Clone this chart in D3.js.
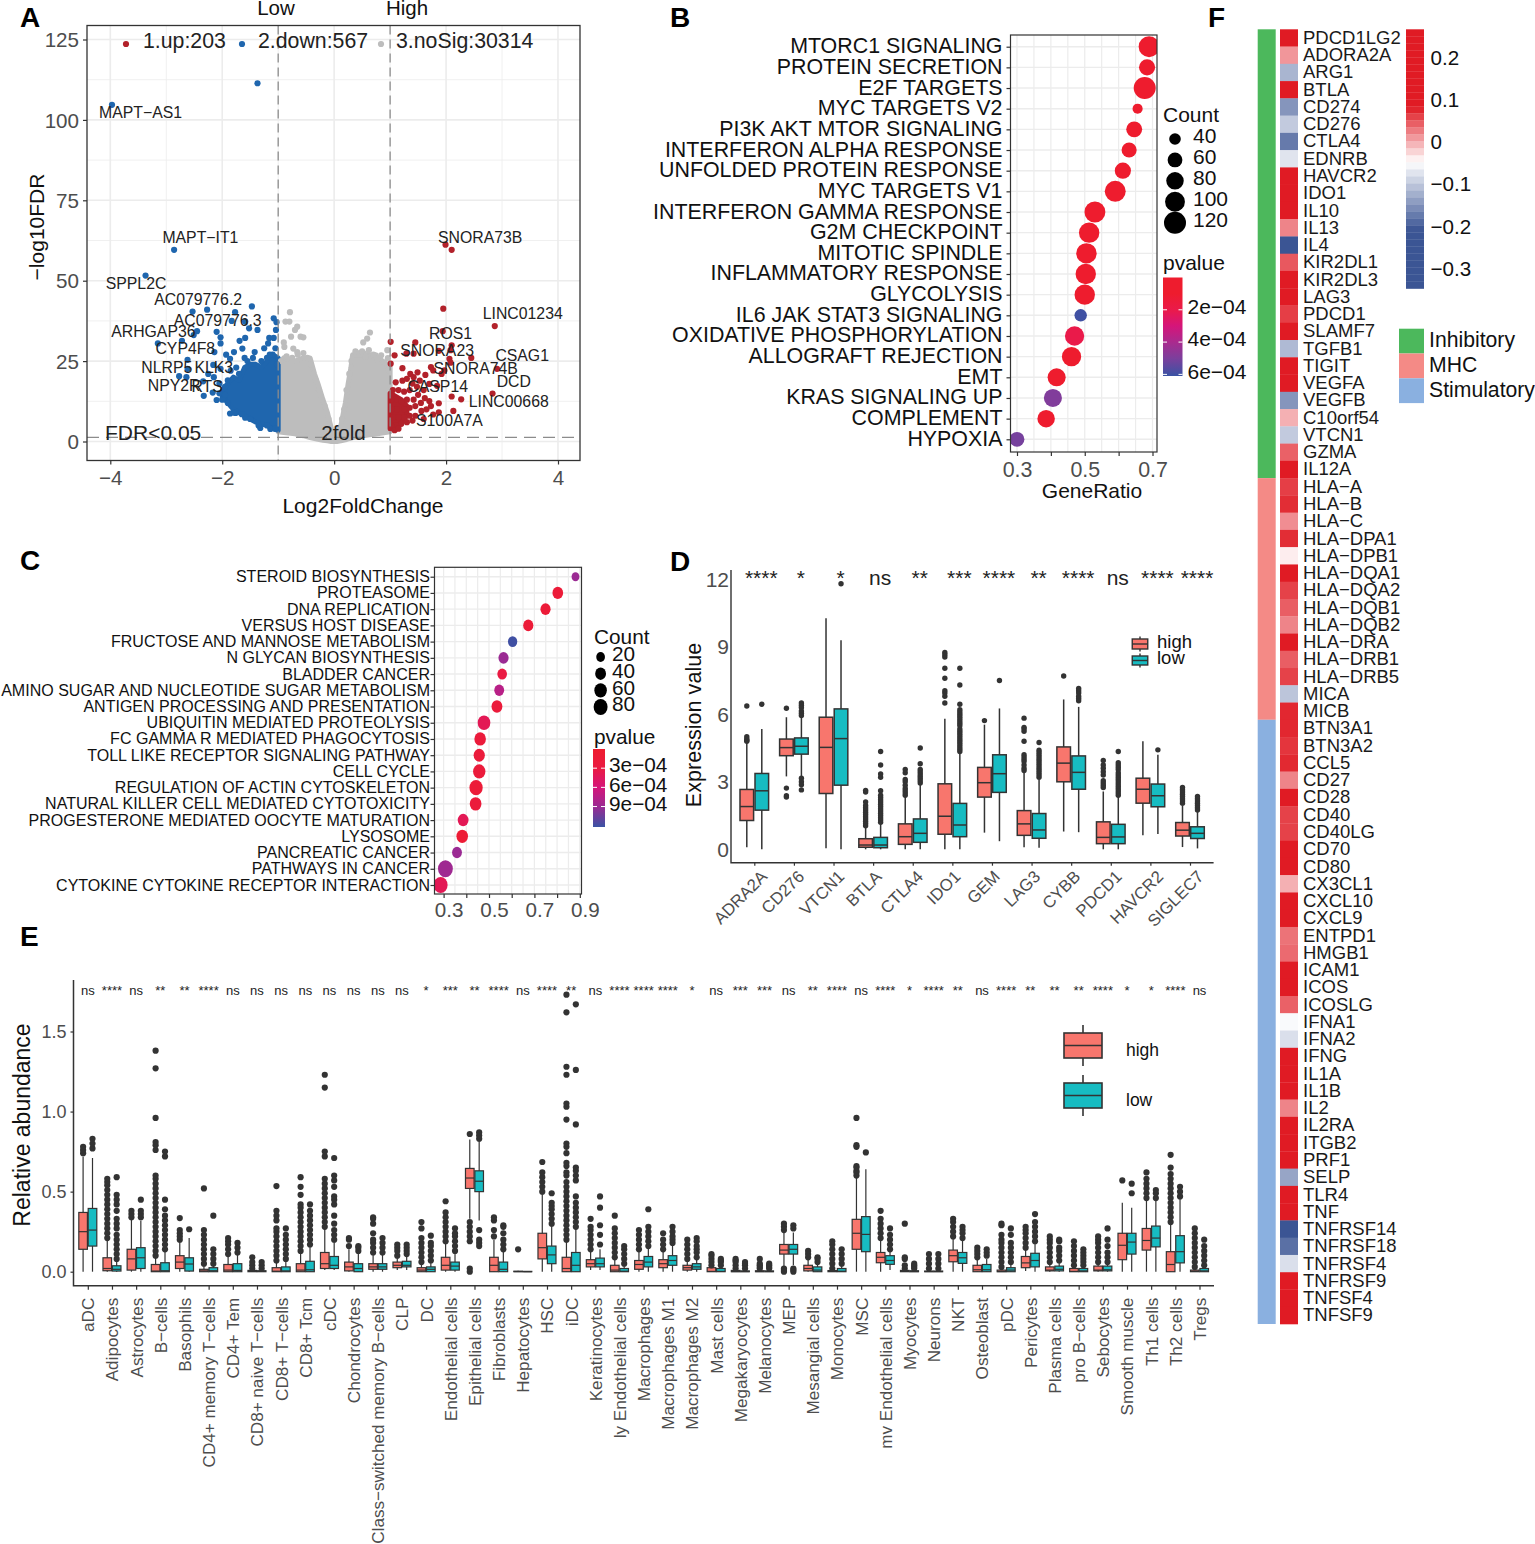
<!DOCTYPE html>
<html>
<head>
<meta charset="utf-8">
<script src="https://cdn.jsdelivr.net/npm/d3@7"></script>
<style>
body { margin: 0; background: #fff; }
text { font-family: "Liberation Sans", Arial, sans-serif; }
</style>
</head>
<body>
<div id="chart"></div>
<script>
// ---- panel A: volcano, [log2fc, -log10fdr]
const volcanoBlue = [[-3.97,104.7],[-1.37,111.4],[-2.86,59.6],[-3.37,51.6],[-1.47,42],[-2.27,41],[-2.53,40.4],[-1.77,40.2],[-1.83,37.5],[-1.08,38.3],[-1.03,37.1],[-1.59,37.3],[-1.52,35.2],[-1.37,34.7],[-2.1,34.1],[-2.45,34.3],[-2.51,33.1],[-2.72,31.3],[-3.15,30.5],[-2.03,32.4],[-1.59,32.2],[-1.69,31.3],[-1.04,34.7],[-1.16,32.2],[-1.08,32.2],[-1.18,30.5],[-2.03,30.5],[-2.14,27.8],[-1.64,28.9],[-1.42,27.8],[-1.79,27.8],[-1.93,27],[-1.86,25.7],[-2.62,25.4],[-2.16,23.8],[-2.03,22.6],[-2.62,22.6],[-2.77,20.3],[-2.64,20],[-2.34,18.7],[-2.33,14.2],[-2.17,15.2],[-2.1,12.9],[-1.86,8.7],[-1.76,8.9],[-1.59,7.4],[-1.32,4.2],[-1.14,3.9],[-1.05,4],[-1.2,5],[-1.35,5],[-1.5,7],[-1.65,8.5],[-1.8,9],[-1.9,12],[-2,13],[-2.05,15],[-1.95,17],[-1.9,19],[-1.85,22],[-1.7,21],[-1.55,25],[-1.45,26],[-1.3,25],[-1.2,26],[-1.1,27],[-1.25,29],[-1.15,27],[-1.05,29],[-1.02,24],[-1.75,23],[-1.6,26],[-1.95,14.5],[-2.05,18],[-2.15,20],[-2.25,21]];
const blueMassX = [-1.0,-1.1,-1.2,-1.3,-1.4,-1.5,-1.6,-1.7,-1.8,-1.9,-2.0];
const blueMassLo = [3.5,4,5,5.5,6,7,8,9,10,12,14];
const blueMassHi = [26,27,25,23,24,24,23,19,20,18,16];
const volcanoRed = [[1.99,61.2],[2.1,59.6],[1.95,41.3],[2.87,35.9],[1.94,34.3],[1.01,31],[1.45,30.8],[2.1,29.9],[2.08,28.4],[1.87,28.2],[1.08,26.8],[1.42,27.3],[1.29,27.3],[2.45,26],[2.06,25.7],[2.08,24.5],[1.01,24.2],[1.22,22.8],[1.73,23.1],[1.77,22.1],[1.97,22.1],[1.92,21],[2.91,22.6],[1.49,21.5],[1.36,21],[1.63,20.7],[1.42,20],[1.1,18.4],[1.22,18.9],[1.53,18.9],[1.7,17.9],[1.84,17.3],[2.83,14.9],[2.1,14],[2.27,13.1],[1.7,12.6],[1.87,11.9],[1.73,11],[2.13,9.5],[1.87,9.1],[1.56,9.5],[1.77,8.4],[1.3,19.5],[1.4,18],[1.48,17],[1.6,16],[1.35,16],[1.25,15.5],[1.15,16],[1.05,16],[1.5,14.5],[1.62,13.5],[1.42,13],[1.3,13],[1.2,12.5],[1.1,13],[1.02,13],[1.55,12],[1.45,11],[1.35,10.5],[1.65,10],[1.25,10],[1.12,10],[1.03,10],[1.45,8],[1.35,8],[1.25,7.5],[1.15,7.5],[1.05,7.5],[1.3,6],[1.2,5.5],[1.1,5],[1.03,4.5],[1.08,3.5],[1.15,4],[1.4,6.5],[1.6,7]];
const redMassX = [1.0,1.1,1.2,1.3];
const redMassLo = [4,4,6,8];
const redMassHi = [15,14,13,11];
const volcanoGrey = [[-0.79,40.2],[-0.87,37.3],[-0.8,37.3],[-0.66,35.7],[-0.7,34.7],[-0.77,32.6],[-0.6,32.6],[-0.55,32.4],[-0.9,30.8],[-0.89,29.4],[-0.73,28.9],[-0.66,27.8],[0.64,33.9],[0.59,32],[0.52,30.8],[0.62,28.4],[0.74,26.8],[0.84,26.8],[0.95,28.4],[0.96,25.9],[0.53,27.3],[-0.95,25],[-0.85,26.5],[-0.75,26],[-0.65,27],[-0.55,27.5],[-0.48,26],[-0.42,24],[-0.38,21],[-0.33,19],[-0.27,16],[-0.23,13],[-0.17,11],[-0.1,7],[0.14,7],[0.18,10],[0.22,16],[0.27,21],[0.31,25],[0.38,28],[0.45,27.5],[0.5,28],[0.56,26.5],[0.7,27],[0.78,25.5],[0.9,24.5],[0.97,22]];
const greyLeftX = [-1,-0.9,-0.7,-0.55,-0.43,-0.35,-0.29,-0.2,-0.12,-0.05,0];
const greyLeftLo = [3,2.8,2.4,1.8,1.2,0.9,0.7,0.4,0.2,0,0];
const greyLeftHi = [24,26,25,26,26,21,18,13,9,4,1.5];
const greyRightX = [0,0.05,0.12,0.2,0.25,0.3,0.33,0.6,0.8,1];
const greyRightLo = [0,0,0.2,0.5,0.8,1,1.2,2,2.5,3];
const greyRightHi = [1.5,2.5,5,12,18,23,27,27,26,23];
const volcanoLabels = ["MAPT−AS1","MAPT−IT1","SPPL2C","AC079776.2","AC079776.3","ARHGAP36","CYP4F8","NLRP5","KLK3","NPY2R","RTS","SNORA73B","LINC01234","ROS1","SNORA23","CSAG1","SNORA74B","DCD","CASP14","LINC00668","S100A7A"];
const volcanoLabelX = [-3.46,-2.39,-3.54,-2.43,-2.08,-3.23,-2.66,-2.99,-2.15,-2.86,-2.27,2.61,3.37,2.08,1.84,3.36,2.53,3.21,1.85,3.12,2.06];
const volcanoLabelY = [102.2,63.3,49,44.3,37.5,34.1,28.9,23.1,22.9,17.3,17.1,63.3,39.7,33.6,28.2,26.6,22.6,18.6,17.1,12.3,6.6];

// ---- panel B
const hallmarkTerms = ["MTORC1 SIGNALING","PROTEIN SECRETION","E2F TARGETS","MYC TARGETS V2","PI3K AKT MTOR SIGNALING","INTERFERON ALPHA RESPONSE","UNFOLDED PROTEIN RESPONSE","MYC TARGETS V1","INTERFERON GAMMA RESPONSE","G2M CHECKPOINT","MITOTIC SPINDLE","INFLAMMATORY RESPONSE","GLYCOLYSIS","IL6 JAK STAT3 SIGNALING","OXIDATIVE PHOSPHORYLATION","ALLOGRAFT REJECTION","EMT","KRAS SIGNALING UP","COMPLEMENT","HYPOXIA"];
const hallmarkRatio = [0.69,0.684,0.677,0.656,0.646,0.631,0.6125,0.59,0.53,0.513,0.505,0.503,0.5,0.488,0.47,0.461,0.417,0.406,0.386,0.3];
const hallmarkCount = [110,70,120,32,68,62,70,110,110,105,105,105,105,45,95,95,85,85,80,60];
const hallmarkP = [0.2e-4,0.2e-4,0.2e-4,0.5e-4,0.5e-4,0.4e-4,0.3e-4,0.3e-4,0.3e-4,0.2e-4,0.2e-4,0.2e-4,0.2e-4,6e-4,2e-4,0.5e-4,0.3e-4,4.9e-4,0.3e-4,5.1e-4];

// ---- panel C
const keggTerms = ["STEROID BIOSYNTHESIS","PROTEASOME","DNA REPLICATION","VERSUS HOST DISEASE","FRUCTOSE AND MANNOSE METABOLISM","N GLYCAN BIOSYNTHESIS","BLADDER CANCER","AMINO SUGAR AND NUCLEOTIDE SUGAR METABOLISM","ANTIGEN PROCESSING AND PRESENTATION","UBIQUITIN MEDIATED PROTEOLYSIS","FC GAMMA R MEDIATED PHAGOCYTOSIS","TOLL LIKE RECEPTOR SIGNALING PATHWAY","CELL CYCLE","REGULATION OF ACTIN CYTOSKELETON","NATURAL KILLER CELL MEDIATED CYTOTOXICITY","PROGESTERONE MEDIATED OOCYTE MATURATION","LYSOSOME","PANCREATIC CANCER","PATHWAYS IN CANCER","CYTOKINE CYTOKINE RECEPTOR INTERACTION"];
const keggRatio = [0.881,0.803,0.749,0.673,0.604,0.564,0.558,0.545,0.535,0.478,0.461,0.457,0.457,0.443,0.441,0.386,0.382,0.359,0.308,0.287];
const keggCount = [14,38,33,33,25,33,28,30,40,62,48,44,58,70,50,40,48,30,95,80];
const keggP = [9e-4,1.5e-4,1.5e-4,1.5e-4,12e-4,9e-4,3e-4,7.5e-4,2e-4,4e-4,2e-4,2e-4,2e-4,1.5e-4,2e-4,4e-4,1e-4,9e-4,8.8e-4,4e-4];

// ---- panel D: [lower whisker, q1, median, q3, upper whisker, outliers]
const checkpointGenes = ["ADRA2A","CD276","VTCN1","BTLA","CTLA4","IDO1","GEM","LAG3","CYBB","PDCD1","HAVCR2","SIGLEC7"];
const checkpointStars = ["****","*","*","ns","**","***","****","**","****","ns","****","****"];
const checkpointHigh = [
 [0.09,1.28,1.9,2.66,4.75,[4.8,4.85,4.9,5,6.37]],
 [3.24,4.16,4.52,4.9,5.87,[6.27,2.72,2.38,2.32]],
 [0.05,2.48,4.53,5.87,10.27,[]],
 [0,0.09,0.19,0.47,1,[1.05,1.15,1.25,1.35,1.45,1.55,1.65,1.75,1.85,1.95,2.1,2.55,2.62]],
 [0,0.22,0.56,1.13,2.35,[2.4,2.5,2.6,2.7,2.85,3,3.1,3.4,3.55]],
 [0,0.67,1.47,2.91,5.8,[6.5,6.8,6.95,7.05,7.6,8.05,8.55,8.65,8.75]],
 [0.74,2.32,2.96,3.64,5.54,[5.72]],
 [0.09,0.62,1.13,1.72,3.4,[3.5,3.6,3.75,3.9,4,4.1,4.2,4.8,5.25,5.35,5.42,5.83]],
 [0.79,3,3.83,4.55,6.66,[7.7]],
 [0,0.25,0.53,1.22,2.57,[2.75,2.85,2.95,3.05,3.3,3.45,3.6,3.75,3.95]],
 [0.62,2.05,2.67,3.16,4.8,[]],
 [0.1,0.59,0.85,1.19,1.93,[2.05,2.15,2.25,2.35,2.45,2.55,2.65,2.75]]
];
const checkpointLow = [
 [0,1.74,2.6,3.37,5.35,[6.45]],
 [3.24,4.23,4.58,4.95,5.9,[6.5,6.4,6.3,6.15,6.05,5.95,3.16,3,2.87,2.64]],
 [0,2.85,4.92,6.24,9.29,[11.8]],
 [0,0.07,0.19,0.53,1.15,[1.2,1.3,1.4,1.5,1.6,1.7,1.8,1.9,2,2.1,2.2,2.3,2.4,2.6,3.2,3.35,3.75,4.35]],
 [0,0.31,0.71,1.35,2.87,[2.95,3.05,3.15,3.25,3.35,3.45,3.55,3.8,4.5]],
 [0,0.56,1.08,2.04,4.28,[4.35,4.45,4.55,4.65,4.75,4.85,4.95,5.05,5.15,5.25,5.35,5.5,5.6,5.7,5.8,5.9,6,6.1,6.2,6.45,7.3,8.05]],
 [0.36,2.53,3.36,4.2,6.26,[7.5]],
 [0.07,0.49,0.86,1.59,3.1,[3.2,3.3,3.4,3.5,3.6,3.7,3.8,3.9,4,4.1,4.2,4.3,4.4,4.75]],
 [0.76,2.67,3.42,4.15,6.33,[6.6,6.7,6.8,6.95,7.05,7.15]],
 [0,0.25,0.55,1.11,2.35,[2.4,2.5,2.6,2.7,2.8,2.9,3,3.1,3.2,3.3,3.4,3.55,3.65,3.75,3.85,4.35]],
 [0.68,1.89,2.38,2.9,4.2,[4.42]],
 [0.04,0.48,0.71,1,1.72,[1.75,1.85,1.95,2.05,2.15,2.25,2.35]]
];

// ---- panel E
const cellTypes = ["aDC","Adipocytes","Astrocytes","B−cells","Basophils","CD4+ memory T−cells","CD4+ Tem","CD8+ naive T−cells","CD8+ T−cells","CD8+ Tcm","cDC","Chondrocytes","Class−switched memory B−cells","CLP","DC","Endothelial cells","Epithelial cells","Fibroblasts","Hepatocytes","HSC","iDC","Keratinocytes","ly Endothelial cells","Macrophages","Macrophages M1","Macrophages M2","Mast cells","Megakaryocytes","Melanocytes","MEP","Mesangial cells","Monocytes","MSC","mv Endothelial cells","Myocytes","Neurons","NKT","Osteoblast","pDC","Pericytes","Plasma cells","pro B−cells","Sebocytes","Smooth muscle","Th1 cells","Th2 cells","Tregs"];
const cellStars = ["ns","****","ns","**","**","****","ns","ns","ns","ns","ns","ns","ns","ns","*","***","**","****","ns","****","**","ns","****","****","****","*","ns","***","***","ns","**","****","ns","****","*","****","**","ns","****","**","**","**","****","*","*","****","ns"];
const cellHigh = [
 [0,0.14,0.25,0.37,0.72,[0.74,0.76,0.78]],
 [0,0.006,0.02,0.087,0.2,[0.21,0.24,0.27,0.3,0.33,0.36,0.39,0.42,0.45,0.48,0.51,0.54,0.56,0.58]],
 [0,0.01,0.08,0.14,0.33,[0.34,0.36,0.38]],
 [0,0,0.004,0.045,0.09,[0.1,0.13,0.16,0.19,0.22,0.25,0.28,0.31,0.34,0.37,0.4,0.43,0.46,0.49,0.52,0.55,0.58,0.6,0.76,0.79,0.81,0.96,1.27,1.38]],
 [0,0.02,0.06,0.1,0.19,[0.2,0.22,0.24,0.26,0.335]],
 [0,0,0.005,0.015,0.04,[0.05,0.08,0.11,0.14,0.17,0.2,0.23,0.26,0.52]],
 [0,0,0.01,0.045,0.1,[0.11,0.14,0.17,0.19,0.21]],
 [0,0,0.002,0.008,0.012,[0.02,0.04,0.06,0.09]],
 [0,0,0.003,0.025,0.06,[0.07,0.1,0.13,0.16,0.19,0.22,0.25,0.27,0.32,0.35,0.38,0.535]],
 [0,0,0.01,0.05,0.12,[0.13,0.16,0.19,0.22,0.25,0.28,0.31,0.34,0.37,0.4,0.42,0.48,0.53,0.59]],
 [0.01,0.02,0.05,0.12,0.27,[0.28,0.31,0.34,0.37,0.4,0.43,0.46,0.49,0.52,0.55,0.58,0.72,0.75,1.15,1.23]],
 [0,0.005,0.03,0.06,0.14,[0.16,0.2,0.21]],
 [0,0.015,0.03,0.05,0.11,[0.12,0.15,0.18,0.2,0.24,0.3,0.33,0.34]],
 [0.01,0.025,0.04,0.06,0.095,[0.1,0.13,0.15,0.17]],
 [0,0,0.01,0.025,0.05,[0.06,0.09,0.12,0.15,0.18,0.21,0.27,0.31]],
 [0,0.01,0.04,0.09,0.18,[0.19,0.22,0.25,0.28,0.31,0.34,0.37,0.44]],
 [0.33,0.52,0.585,0.645,0.825,[0.86,0.31,0.28,0.25,0.22,0.19,0.02,0]],
 [0,0,0.04,0.09,0.2,[0.22,0.26,0.32,0.34]],
 [0,0,0.001,0.003,0.006,[0.14]],
 [0,0.08,0.15,0.24,0.5,[0.5,0.53,0.56,0.59,0.62,0.685]],
 [0,0,0.02,0.09,0.2,[0.2,0.23,0.26,0.29,0.32,0.35,0.38,0.41,0.44,0.47,0.5,0.53,0.56,0.6,0.62,0.66,0.68,0.74,0.78,0.8,0.95,1.03,1.05,1.23,1.28,1.62,1.73]],
 [0.01,0.03,0.05,0.075,0.13,[0.14,0.17,0.2,0.23,0.26,0.28,0.33]],
 [0,0,0.01,0.04,0.08,[0.09,0.12,0.15,0.18,0.21,0.24,0.27,0.35]],
 [0,0.015,0.045,0.07,0.13,[0.14,0.17,0.2,0.23,0.26]],
 [0,0.025,0.05,0.075,0.13,[0.14,0.17,0.2,0.24]],
 [0,0.01,0.025,0.04,0.07,[0.08,0.11,0.14,0.17,0.2]],
 [0,0,0.002,0.025,0.03,[0.04,0.06,0.08,0.1,0.11]],
 [0,0,0.001,0.008,0.012,[0.02,0.04,0.06,0.07,0.08]],
 [0,0,0.001,0.006,0.01,[0.02,0.03,0.04,0.05,0.08]],
 [0.03,0.11,0.135,0.17,0.25,[0.26,0.28,0.3,0.01,0,0.02]],
 [0,0.005,0.02,0.04,0.08,[0.09,0.11,0.13]],
 [0,0,0.002,0.007,0.015,[0.02,0.05,0.08,0.11,0.14,0.17,0.19]],
 [0,0.14,0.24,0.327,0.59,[0.6,0.62,0.63,0.65,0.66,0.78,0.79,0.96]],
 [0,0.056,0.09,0.12,0.2,[0.21,0.24,0.27,0.3,0.33,0.38]],
 [0,0,0.002,0.008,0.012,[0.02,0.04,0.08,0.09,0.3]],
 [0,0,0.001,0.004,0.01,[0.02,0.05,0.08,0.11]],
 [0,0.062,0.1,0.135,0.21,[0.22,0.25,0.28,0.31,0.33]],
 [0,0,0.012,0.04,0.075,[0.09,0.11,0.13,0.15]],
 [0,0,0.001,0.01,0.02,[0.03,0.06,0.09,0.12,0.15,0.18,0.2,0.23,0.29,0.3]],
 [0.005,0.025,0.055,0.095,0.14,[0.15,0.18,0.21,0.24,0.26,0.28]],
 [0,0.005,0.01,0.03,0.05,[0.06,0.09,0.12,0.15,0.18,0.2,0.22]],
 [0,0,0.002,0.02,0.03,[0.04,0.07,0.1,0.13,0.16,0.19]],
 [0,0.005,0.01,0.035,0.05,[0.06,0.09,0.12,0.15,0.18,0.2,0.22]],
 [0,0.075,0.165,0.24,0.43,[0.57]],
 [0,0.135,0.195,0.27,0.45,[0.46,0.49,0.52,0.55,0.58,0.62]],
 [0,0,0.045,0.125,0.3,[0.31,0.34,0.37,0.4,0.43,0.46,0.49,0.52,0.55,0.58,0.61,0.65,0.73]],
 [0,0,0.002,0.01,0.02,[0.03,0.06,0.09,0.12,0.15,0.18,0.21,0.24,0.27]]
];
const cellLow = [
 [0,0.16,0.26,0.395,0.71,[0.77,0.8,0.83]],
 [0,0.004,0.015,0.037,0.07,[0.08,0.11,0.14,0.17,0.2,0.23,0.27,0.3,0.33,0.38,0.42,0.45,0.48,0.59]],
 [0,0.02,0.087,0.15,0.32,[0.34,0.36,0.38,0.45]],
 [0,0,0.006,0.056,0.135,[0.14,0.17,0.2,0.23,0.26,0.29,0.32,0.35,0.39,0.45,0.72,0.75]],
 [0,0.004,0.048,0.087,0.21,[0.265]],
 [0,0,0.006,0.025,0.05,[0.05,0.08,0.11,0.14,0.35]],
 [0,0,0.008,0.05,0.11,[0.12,0.15,0.18]],
 [0,0,0.002,0.006,0.01,[0.02,0.04,0.06]],
 [0,0,0.005,0.03,0.07,[0.08,0.11,0.14,0.17,0.2,0.23,0.27]],
 [0,0,0.012,0.065,0.16,[0.17,0.2,0.23,0.26,0.29,0.32,0.35,0.38,0.42]],
 [0.01,0.02,0.04,0.095,0.19,[0.2,0.23,0.26,0.3,0.35,0.42,0.45,0.47,0.53,0.57,0.6,0.71]],
 [0,0,0.02,0.05,0.12,[0.13,0.15,0.16]],
 [0,0.015,0.03,0.05,0.11,[0.12,0.15,0.18,0.21]],
 [0.01,0.03,0.04,0.065,0.1,[0.11,0.13,0.15,0.17]],
 [0,0,0.015,0.03,0.06,[0.07,0.1,0.13,0.16,0.18,0.225]],
 [0,0.01,0.035,0.06,0.12,[0.13,0.16,0.19,0.22,0.24,0.27]],
 [0.32,0.5,0.565,0.63,0.81,[0.83,0.85,0.87,0.26,0.2,0.18,0.16]],
 [0,0,0.015,0.06,0.13,[0.14,0.17,0.2,0.24,0.28,0.29]],
 [0,0,0,0.002,0.004,[]],
 [0,0.05,0.105,0.16,0.29,[0.3,0.33,0.36,0.39,0.41,0.43,0.49]],
 [0,0,0.04,0.12,0.27,[0.28,0.31,0.34,0.37,0.4,0.43,0.47,0.57,0.6,0.63,0.65,0.92,1.26,1.67]],
 [0.01,0.03,0.05,0.085,0.14,[0.17,0.23,0.29,0.4,0.47]],
 [0,0,0.003,0.02,0.04,[0.05,0.08,0.11,0.14,0.16]],
 [0,0.03,0.06,0.095,0.15,[0.16,0.19,0.22,0.25,0.28,0.39]],
 [0,0.04,0.07,0.1,0.17,[0.18,0.2,0.22,0.25,0.28]],
 [0,0.015,0.03,0.05,0.08,[0.09,0.12,0.14,0.16,0.19,0.21]],
 [0,0,0.002,0.02,0.03,[0.04,0.06,0.07,0.08]],
 [0,0,0.001,0.005,0.01,[0.02,0.04,0.05,0.06]],
 [0,0,0.001,0.005,0.01,[0.02,0.03,0.04,0.05]],
 [0.04,0.11,0.14,0.17,0.245,[0.27,0.29,0,0.01,0.02]],
 [0,0,0.01,0.03,0.05,[0.06,0.08,0.09]],
 [0,0,0.003,0.02,0.04,[0.05,0.08,0.11,0.14]],
 [0,0.125,0.233,0.344,0.64,[0.745]],
 [0.01,0.046,0.07,0.1,0.135,[0.14,0.17,0.2,0.23,0.27]],
 [0,0,0.001,0.006,0.01,[0.02,0.03,0.04,0.05]],
 [0,0,0.001,0.004,0.01,[0.02,0.05,0.08,0.11]],
 [0,0.052,0.087,0.12,0.2,[0.21,0.24,0.26,0.28]],
 [0,0,0.012,0.045,0.08,[0.1,0.12,0.14]],
 [0,0,0.01,0.025,0.045,[0.06,0.09,0.12,0.15,0.18,0.23,0.27]],
 [0,0.03,0.07,0.115,0.18,[0.19,0.22,0.25,0.28,0.31,0.36]],
 [0,0.005,0.015,0.035,0.06,[0.07,0.1,0.13,0.15,0.19,0.2]],
 [0,0,0.005,0.02,0.03,[0.04,0.06,0.08,0.1,0.12,0.14]],
 [0,0.005,0.012,0.035,0.05,[0.06,0.09,0.12,0.16,0.2,0.27]],
 [0,0.11,0.185,0.24,0.4,[0.49,0.55]],
 [0,0.155,0.21,0.285,0.45,[0.46,0.49,0.51]],
 [0,0.055,0.125,0.225,0.46,[0.47,0.5,0.53]],
 [0,0,0.005,0.02,0.03,[0.04,0.07,0.1,0.13,0.16,0.2]]
];

// ---- panel F
const immuneGenes = ["PDCD1LG2","ADORA2A","ARG1","BTLA","CD274","CD276","CTLA4","EDNRB","HAVCR2","IDO1","IL10","IL13","IL4","KIR2DL1","KIR2DL3","LAG3","PDCD1","SLAMF7","TGFB1","TIGIT","VEGFA","VEGFB","C10orf54","VTCN1","GZMA","IL12A","HLA−A","HLA−B","HLA−C","HLA−DPA1","HLA−DPB1","HLA−DQA1","HLA−DQA2","HLA−DQB1","HLA−DQB2","HLA−DRA","HLA−DRB1","HLA−DRB5","MICA","MICB","BTN3A1","BTN3A2","CCL5","CD27","CD28","CD40","CD40LG","CD70","CD80","CX3CL1","CXCL10","CXCL9","ENTPD1","HMGB1","ICAM1","ICOS","ICOSLG","IFNA1","IFNA2","IFNG","IL1A","IL1B","IL2","IL2RA","ITGB2","PRF1","SELP","TLR4","TNF","TNFRSF14","TNFRSF18","TNFRSF4","TNFRSF9","TNFSF4","TNFSF9"];
const immuneValues = [0.2,0.02,-0.11,0.2,-0.14,-0.09,-0.165,-0.065,0.2,0.2,0.2,0.03,-0.25,0.055,0.2,0.2,0.07,0.11,-0.105,0.15,0.15,-0.14,0.005,-0.09,0.05,0.12,0.07,0.08,0.025,0.08,-0.03,0.1,0.068,0.052,0.03,0.095,0.052,0.068,-0.095,0.083,0.083,0.075,0.082,0.03,0.1,0.068,0.068,0.11,0.11,0.005,0.11,0.11,0.04,0.045,0.12,0.12,0.05,-0.045,-0.07,0.15,0.15,0.15,0.03,0.15,0.15,0.15,-0.125,0.15,0.15,-0.2,-0.175,-0.07,0.15,0.15,0.15];
const immuneClassNames = ["Inhibitory","MHC","Stimulatory"];
const immuneClassSizes = [26,14,35];
const immuneTicks = [0.2,0.1,0,-0.1,-0.2,-0.3];

const font = "Liberation Sans";
const dark = "#333333", tickGrey = "#4d4d4d", gridGrey = "#ececec";
const highFill = "#f8766d", lowFill = "#17bcc2";

const svg = d3.select("#chart").append("svg")
	.attr("width", 1535).attr("height", 1544)
	.style("display", "block");
const defs = svg.append("defs");

function label(g, x, y, s, size, opts){
	opts = opts || {};
	return g.append("text")
		.attr("x", x).attr("y", y)
		.attr("dy", opts.dy === undefined ? "0.35em" : opts.dy)
		.attr("text-anchor", opts.anchor || "start")
		.attr("font-size", size)
		.attr("font-weight", opts.weight || "normal")
		.attr("fill", opts.fill || "#111")
		.text(s);
}

function styleAxis(g, size, color){
	g.select(".domain").remove();
	g.selectAll(".tick line").attr("stroke", dark).attr("stroke-width", 1.2);
	g.selectAll(".tick text").attr("font-size", size).attr("fill", color).attr("font-family", font);
}

function panelLetters(){
	const letters = [["A",20,27],["B",670,27],["C",20,570],["D",670,571],["E",20,946],["F",1208,27]];
	letters.forEach(d => label(svg, d[1], d[2], d[0], 28, {weight:"bold", dy:0, fill:"#000"}));
}

// ---------------- A
function drawVolcano(){
	const left = 87, right = 580, top = 25.5, bottom = 460.5;
	const x = d3.scaleLinear().domain([-4,4]).range([110.3,558]);
	const y = d3.scaleLinear().domain([0,125]).range([441.5,39.5]);
	const g = svg.append("g");
	[-3,-1,1,3].forEach(v => g.append("line").attr("x1",x(v)).attr("x2",x(v)).attr("y1",top).attr("y2",bottom).attr("stroke",gridGrey).attr("stroke-width",0.8));
	[12.5,37.5,62.5,87.5,112.5].forEach(v => g.append("line").attr("x1",left).attr("x2",right).attr("y1",y(v)).attr("y2",y(v)).attr("stroke",gridGrey).attr("stroke-width",0.8));
	[-4,-2,0,2,4].forEach(v => g.append("line").attr("x1",x(v)).attr("x2",x(v)).attr("y1",top).attr("y2",bottom).attr("stroke",gridGrey).attr("stroke-width",1.6));
	[0,25,50,75,100,125].forEach(v => g.append("line").attr("x1",left).attr("x2",right).attr("y1",y(v)).attr("y2",y(v)).attr("stroke",gridGrey).attr("stroke-width",1.6));

	const mass = (xs, lo, hi, col) => {
		const area = d3.area().x((d,i) => x(xs[i])).y0((d,i) => y(lo[i])).y1((d,i) => y(hi[i]));
		g.append("path").attr("d", area(xs)).attr("fill",col).attr("stroke",col).attr("stroke-width",5).attr("stroke-linejoin","round");
	};
	mass(greyLeftX, greyLeftLo, greyLeftHi, "#bdbdbd");
	mass(greyRightX, greyRightLo, greyRightHi, "#bdbdbd");
	mass(blueMassX, blueMassLo, blueMassHi, "#1f66ae");
	mass(redMassX, redMassLo, redMassHi, "#b2212a");
	const pts = (data, col) => g.append("g").selectAll("circle").data(data).enter().append("circle")
		.attr("cx", d => x(d[0])).attr("cy", d => y(d[1])).attr("r", 3.1).attr("fill", col);
	pts(volcanoGrey, "#bdbdbd");
	pts(volcanoBlue, "#1f66ae");
	pts(volcanoRed, "#b2212a");

	// thresholds
	[-1,1].forEach(v => g.append("line").attr("x1",x(v)).attr("x2",x(v)).attr("y1",top).attr("y2",bottom).attr("stroke","#8c8c8c").attr("stroke-width",1.3).attr("stroke-dasharray","9 5"));
	g.append("line").attr("x1",left).attr("x2",right).attr("y1",y(1.3)).attr("y2",y(1.3)).attr("stroke","#8c8c8c").attr("stroke-width",1.3).attr("stroke-dasharray","12 7");

	volcanoLabels.forEach((s,i) => label(g, x(volcanoLabelX[i]), y(volcanoLabelY[i]), s, 15.8, {anchor:"middle", fill:"#222"}));

	// legend
	[[126,143,"#b2212a","1.up:203"],[242,258,"#1f66ae","2.down:567"],[381,396,"#bdbdbd","3.noSig:30314"]].forEach(d => {
		g.append("circle").attr("cx",d[0]).attr("cy",44).attr("r",3.1).attr("fill",d[2]);
		label(g, d[1], 41, d[3], 21.3, {fill:"#222"});
	});
	g.append("rect").attr("x",left).attr("y",top).attr("width",right-left).attr("height",bottom-top).attr("fill","none").attr("stroke",dark).attr("stroke-width",1.3);

	const xa = g.append("g").attr("transform",`translate(0,${bottom})`).call(d3.axisBottom(x).tickValues([-4,-2,0,2,4]).tickSize(4).tickPadding(6));
	styleAxis(xa, 20.6, tickGrey);
	const ya = g.append("g").attr("transform",`translate(${left},0)`).call(d3.axisLeft(y).tickValues([0,25,50,75,100,125]).tickSize(4).tickPadding(4));
	styleAxis(ya, 20.6, tickGrey);
	ya.selectAll(".tick text").attr("dy","0.35em");

	label(g, 276, 8, "Low", 20.5, {anchor:"middle"});
	label(g, 407, 8, "High", 20.5, {anchor:"middle"});
	label(g, 105, 433, "FDR<0.05", 21, {fill:"#222"});
	label(g, 343.5, 433, "2fold", 20.5, {anchor:"middle", fill:"#222"});
	label(g, 363, 506, "Log2FoldChange", 21, {anchor:"middle"});
	label(g, 0, 0, "−log10FDR", 21, {anchor:"middle"}).attr("transform","translate(37,227) rotate(-90)");
}

// ---------------- B, C shared dotplot
function drawDotplot(cfg){
	const g = svg.append("g");
	const x = d3.scaleLinear().domain(cfg.xDomain).range(cfg.xRange);
	const y = d3.scalePoint().domain(cfg.terms).range(cfg.yRange);
	const r = d3.scaleSqrt().domain(cfg.countDomain).range(cfg.rRange);
	const id = cfg.id;
	defs.append("clipPath").attr("id",id).append("rect").attr("x",cfg.left).attr("y",cfg.top).attr("width",cfg.right-cfg.left).attr("height",cfg.bottom-cfg.top);

	g.selectAll(".gx").data(cfg.gridX).enter().append("line").attr("x1",d=>x(d)).attr("x2",d=>x(d)).attr("y1",cfg.top).attr("y2",cfg.bottom).attr("stroke",gridGrey).attr("stroke-width",1.2);
	g.selectAll(".gy").data(cfg.terms).enter().append("line").attr("x1",cfg.left).attr("x2",cfg.right).attr("y1",d=>y(d)).attr("y2",d=>y(d)).attr("stroke",gridGrey).attr("stroke-width",1.4);

	const dots = g.append("g").attr("clip-path",`url(#${id})`);
	dots.selectAll("ellipse").data(cfg.terms).enter().append("ellipse")
		.attr("cx",(d,i) => x(cfg.ratio[i]))
		.attr("cy",d => y(d))
		.attr("rx",(d,i) => r(cfg.count[i])*cfg.squeeze)
		.attr("ry",(d,i) => r(cfg.count[i]))
		.attr("fill",(d,i) => cfg.color(cfg.p[i]));

	g.append("rect").attr("x",cfg.left).attr("y",cfg.top).attr("width",cfg.right-cfg.left).attr("height",cfg.bottom-cfg.top).attr("fill","none").attr("stroke",dark).attr("stroke-width",1.2);

	const ya = g.append("g").attr("transform",`translate(${cfg.left},0)`).call(d3.axisLeft(y).tickSize(4).tickPadding(cfg.yPad));
	styleAxis(ya, cfg.termSize, "#111");
	ya.selectAll(".tick text").attr("dy",cfg.termDy).attr("transform",`scale(${cfg.termScale},1)`);
	const xa = g.append("g").attr("transform",`translate(0,${cfg.bottom})`).call(d3.axisBottom(x).tickValues(cfg.xTicks).tickSize(4).tickPadding(cfg.xPad).tickFormat(v => cfg.xLabels.includes(v) ? d3.format(".1f")(v) : ""));
	styleAxis(xa, cfg.xSize, tickGrey);
	xa.selectAll(".tick text").attr("dx", cfg.xShift);

	// count legend
	label(g, cfg.legendX, cfg.countTitleY, "Count", cfg.legendTitle);
	const ly = d3.scalePoint().domain(cfg.countKeys).range(cfg.keyRange);
	cfg.countKeys.forEach(c => {
		g.append("ellipse").attr("cx",cfg.keyX).attr("cy",ly(c)).attr("rx",r(c)*cfg.squeeze).attr("ry",r(c)).attr("fill","#000");
		label(g, cfg.keyTextX, ly(c)-3, c, cfg.legendTitle);
	});
	// pvalue legend
	label(g, cfg.legendX, cfg.pTitleY, "pvalue", cfg.legendTitle);
	const grad = defs.append("linearGradient").attr("id",id+"g").attr("x1",0).attr("x2",0).attr("y1",0).attr("y2",1);
	const pd = cfg.color.domain();
	pd.forEach(v => grad.append("stop").attr("offset",(v-pd[0])/(pd[pd.length-1]-pd[0])).attr("stop-color",cfg.color(v)));
	const by = d3.scaleLinear().domain([pd[0],pd[pd.length-1]]).range(cfg.barY);
	g.append("rect").attr("x",cfg.barX).attr("y",cfg.barY[0]).attr("width",cfg.barW).attr("height",cfg.barY[1]-cfg.barY[0]).attr("fill",`url(#${id}g)`);
	cfg.pTicks.forEach(v => {
		[[cfg.barX,cfg.barX+4],[cfg.barX+cfg.barW-4,cfg.barX+cfg.barW]].forEach(s =>
			g.append("line").attr("x1",s[0]).attr("x2",s[1]).attr("y1",by(v)).attr("y2",by(v)).attr("stroke","#fff").attr("stroke-width",1));
		label(g, cfg.barX+cfg.barW+cfg.pTextDx, by(v)-3, d3.format(".0e")(v).replace("e-","e−0"), cfg.legendTitle);
	});
	label(g, cfg.xTitleX, cfg.xTitleY, cfg.xTitle || "", cfg.legendTitle, {anchor:"middle"});
}

function drawEnrichment(){
	const colorB = d3.scaleLinear().domain([0,1e-4,2e-4,3e-4,4e-4,5e-4,6.1e-4])
		.range(["#ee1c2e","#ee1c2e","#ea1a4a","#d5157a","#aa2a8e","#7c3f9c","#3a53a4"]);
	drawDotplot({
		id:"clipB", terms:hallmarkTerms, ratio:hallmarkRatio, count:hallmarkCount, p:hallmarkP, color:colorB,
		left:1010.5, right:1157, top:35, bottom:452,
		xDomain:[0.3,0.7], xRange:[1017,1152.5], yRange:[46.7,439.3],
		gridX:[0.3,0.35,0.4,0.45,0.5,0.55,0.6,0.65,0.7], xTicks:[0.3,0.4,0.5,0.6,0.7], xLabels:[0.3,0.5,0.7],
		countDomain:[40,120], rRange:[5.8,11], squeeze:1, termSize:21.4, termDy:"0.28em", termScale:1, yPad:4, xSize:21.4, xPad:6, xShift:0,
		legendX:1163, countTitleY:115, legendTitle:21, countKeys:[40,60,80,100,120], keyRange:[139,222.7], keyX:1175, keyTextX:1193,
		pTitleY:263, barX:1163, barW:19.5, barY:[277.5,376], pTicks:[2e-4,4e-4,6e-4], pTextDx:5,
		xTitle:"GeneRatio", xTitleX:1092, xTitleY:491
	});
	const colorC = d3.scaleLinear().domain([0,3e-4,6e-4,9e-4,12.2e-4])
		.range(["#ee1c2e","#ea1a42","#d5157a","#9b2a93","#3a53a4"]);
	drawDotplot({
		id:"clipC", terms:keggTerms, ratio:keggRatio, count:keggCount, p:keggP, color:colorC,
		left:434.5, right:581.5, top:567.3, bottom:894,
		xDomain:[0.3,0.9], xRange:[443.6,579.8], yRange:[576.7,885],
		gridX:[0.3,0.35,0.4,0.45,0.5,0.55,0.6,0.65,0.7,0.75,0.8,0.85,0.9], xTicks:[0.3,0.4,0.5,0.6,0.7,0.8,0.9], xLabels:[0.3,0.5,0.7,0.9],
		countDomain:[20,80], rRange:[5,8], squeeze:0.87, termSize:16.7, termDy:"0.3em", termScale:0.96, yPad:0.7, xSize:20.6, xPad:4, xShift:5,
		legendX:594, countTitleY:637, legendTitle:20.8, countKeys:[20,40,60,80], keyRange:[657,707], keyX:600.6, keyTextX:612,
		pTitleY:737, barX:593, barW:12, barY:[749,827], pTicks:[3e-4,6e-4,9e-4], pTextDx:4
	});
}

// ---------------- D, E shared boxes
function drawBoxes(g, rows, cx, y, w, fill, r, sw){
	const box = g.append("g").selectAll("g").data(rows).enter().append("g");
	box.each(function(d,i){
		const b = d3.select(this), c = cx(i);
		b.append("line").attr("x1",c).attr("x2",c).attr("y1",y(d[0])).attr("y2",y(d[4])).attr("stroke",dark).attr("stroke-width",sw);
		b.append("rect").attr("x",c-w/2).attr("width",w).attr("y",y(d[3])).attr("height",y(d[1])-y(d[3]))
			.attr("fill",fill).attr("stroke",dark).attr("stroke-width",sw);
		b.append("line").attr("x1",c-w/2).attr("x2",c+w/2).attr("y1",y(d[2])).attr("y2",y(d[2])).attr("stroke",dark).attr("stroke-width",sw);
		b.selectAll("circle").data(d[5]).enter().append("circle")
			.attr("cx",c).attr("cy",v => y(v)).attr("r",r).attr("fill",dark);
	});
}

function legendKey(g, cx, top, bottom, w, tail, fill, sw){
	g.append("line").attr("x1",cx).attr("x2",cx).attr("y1",top-tail).attr("y2",bottom+tail).attr("stroke",dark).attr("stroke-width",sw);
	g.append("rect").attr("x",cx-w/2).attr("width",w).attr("y",top).attr("height",bottom-top).attr("fill",fill).attr("stroke",dark).attr("stroke-width",sw);
	g.append("line").attr("x1",cx-w/2).attr("x2",cx+w/2).attr("y1",(top+bottom)/2).attr("y2",(top+bottom)/2).attr("stroke",dark).attr("stroke-width",sw);
}

function drawCheckpoint(){
	const g = svg.append("g");
	const left = 731, right = 1213.6, bottom = 862.7, top = 570;
	const x = d3.scalePoint().domain(checkpointGenes).range([754.3,1190]);
	const y = d3.scaleLinear().domain([0,12]).range([849.3,579.3]);
	drawBoxes(g, checkpointHigh, i => x(checkpointGenes[i])-7.5, y, 13.6, highFill, 2.7, 1.5);
	drawBoxes(g, checkpointLow, i => x(checkpointGenes[i])+7.5, y, 13.6, lowFill, 2.7, 1.5);
	g.append("path").attr("d",`M${left},${top}V${bottom}H${right}`).attr("fill","none").attr("stroke",dark).attr("stroke-width",1.4);
	const ya = g.append("g").attr("transform",`translate(${left},0)`).call(d3.axisLeft(y).tickValues([0,3,6,9,12]).tickSize(0).tickPadding(2));
	styleAxis(ya, 21, tickGrey);
	const xa = g.append("g").attr("transform",`translate(0,${bottom})`).call(d3.axisBottom(x).tickSize(3).tickPadding(3));
	styleAxis(xa, 16.8, tickGrey);
	xa.selectAll(".tick text").attr("text-anchor","end").attr("x",0).attr("y",0).attr("dy",0)
		.attr("transform",function(){
			// long names sit further right of their tick, as in the original
			return `translate(${0.17*this.getComputedTextLength()+2},15) rotate(-45)`;
		});
	checkpointStars.forEach((s,i) => label(g, x(checkpointGenes[i])+7, 585, s, 21, {anchor:"middle", dy:0, fill:"#222"}));
	label(g, 0, 0, "Expression value", 21.6, {anchor:"middle"}).attr("transform","translate(693,725) rotate(-90)");
	legendKey(g, 1140, 639, 649, 15.5, 2.5, highFill, 1.4);
	legendKey(g, 1140, 656, 665, 15.5, 2.5, lowFill, 1.4);
	label(g, 1157, 642, "high", 18.5);
	label(g, 1157, 658, "low", 18.5);
}

function drawAbundance(){
	const g = svg.append("g");
	const left = 73.5, right = 1214, bottom = 1285.7, top = 980;
	const x = d3.scalePoint().domain(cellTypes).range([87.8,1199.5]);
	const y = d3.scaleLinear().domain([0,1.5]).range([1271.7,1031.5]);
	drawBoxes(g, cellHigh, i => x(cellTypes[i])-4.7, y, 8.6, highFill, 3.1, 1.2);
	drawBoxes(g, cellLow, i => x(cellTypes[i])+4.7, y, 8.6, lowFill, 3.1, 1.2);
	g.append("path").attr("d",`M${left},${top}V${bottom}H${right}`).attr("fill","none").attr("stroke",dark).attr("stroke-width",1.5);
	const ya = g.append("g").attr("transform",`translate(${left},0)`).call(d3.axisLeft(y).tickValues([0,0.5,1,1.5]).tickSize(3).tickPadding(4).tickFormat(d3.format(".1f")));
	styleAxis(ya, 18, tickGrey);
	const xa = g.append("g").attr("transform",`translate(0,${bottom})`).call(d3.axisBottom(x).tickSize(4).tickPadding(4));
	styleAxis(xa, 17.1, tickGrey);
	xa.selectAll(".tick text").attr("text-anchor","end").attr("x",0).attr("y",0).attr("dy",0)
		.attr("transform","translate(6,12) rotate(-90)");
	cellStars.forEach((s,i) => label(g, x(cellTypes[i]), 995, s, 13, {anchor:"middle", dy:0, fill:"#222"}));
	label(g, 0, 0, "Relative abundance", 23, {anchor:"middle"}).attr("transform","translate(22,1125) rotate(-90)");
	legendKey(g, 1083, 1033, 1058, 38, 8, highFill, 1.6);
	legendKey(g, 1083, 1083, 1108, 38, 8, lowFill, 1.6);
	label(g, 1126, 1050, "high", 17.5);
	label(g, 1126, 1100, "low", 17.5);
}

// ---------------- F
function drawHeatmap(){
	const g = svg.append("g");
	const y = d3.scaleBand().domain(immuneGenes).range([29.3,1324]);
	const color = d3.scaleLinear().domain([-0.2,-0.04,0.09]).range(["#3b5594","#ffffff","#e01b24"]).clamp(true);
	const classColor = d3.scaleOrdinal().domain(immuneClassNames).range(["#4cb85c","#f48a86","#8ab0e0"]);
	let row = 0;
	immuneClassNames.forEach((c,i) => {
		g.append("rect").attr("x",1257.7).attr("width",18)
			.attr("y",y(immuneGenes[row])).attr("height",y.step()*immuneClassSizes[i]).attr("fill",classColor(c));
		row += immuneClassSizes[i];
	});
	g.selectAll(".cell").data(immuneGenes).enter().append("rect")
		.attr("x",1280).attr("width",18)
		.attr("y",d => y(d)).attr("height",y.step()+0.3)
		.attr("fill",(d,i) => color(immuneValues[i]));
	immuneGenes.forEach(d => label(g, 1303, y(d)+y.step()/2-0.5, d, 18.5, {fill:"#1a1a1a"}));

	// colour key, stepped like pheatmap
	const ky = d3.scaleLinear().domain([0.267,-0.346]).range([29.3,288]);
	const steps = d3.range(0.267,-0.346,-0.0166);
	g.selectAll(".key").data(steps).enter().append("rect")
		.attr("x",1406).attr("width",18)
		.attr("y",d => ky(d)).attr("height",d => ky(d-0.0166)-ky(d)+0.3)
		.attr("fill",d => color(d));
	immuneTicks.forEach(v => label(g, 1430.5, ky(v), v === 0 ? "0" : d3.format(".1f")(v), 20.6));

	immuneClassNames.forEach((c,i) => {
		g.append("rect").attr("x",1399).attr("width",25).attr("y",328.7+24.8*i).attr("height",24.8).attr("fill",classColor(c));
		label(g, 1429, 340+24.8*i, c, 21.2);
	});
}

drawVolcano();
drawEnrichment();
drawCheckpoint();
drawAbundance();
drawHeatmap();
panelLetters();
</script>
</body>
</html>
